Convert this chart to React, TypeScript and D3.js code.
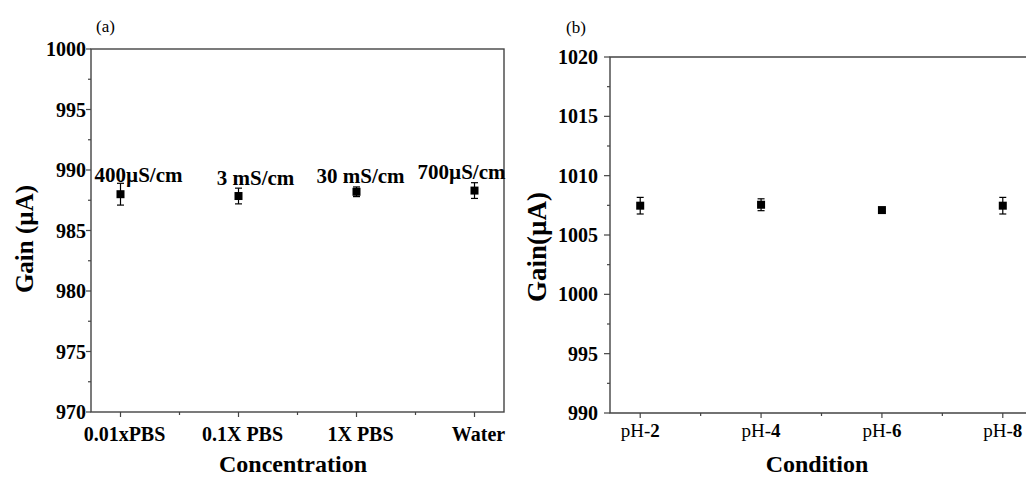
import React from 'react';
import * as d3 from 'd3';

// panel (a): gain vs buffer concentration
const concLabels = ['0.01xPBS', '0.1X PBS', '1X PBS', 'Water'];
const concGain = [988.0, 987.85, 988.2, 988.3];
const concErr = [0.9, 0.65, 0.4, 0.65];
const concNotes = ['400µS/cm', '3 mS/cm', '30 mS/cm', '700µS/cm'];
const concTicks = [970, 975, 980, 985, 990, 995, 1000];

// panel (b): gain vs pH condition
const phLabels = ['pH-2', 'pH-4', 'pH-6', 'pH-8'];
const phGain = [1007.47, 1007.55, 1007.1, 1007.47];
const phErr = [0.7, 0.5, 0.1, 0.7];
const phTicks = [990, 995, 1000, 1005, 1010, 1015, 1020];

const FONT = '"Liberation Serif", "Times New Roman", serif';
const AXIS = '#444';

// pixel nudges for the conductivity notes (relative to each point)
const noteOffsets = [[18, -12], [17, -11], [4, -9], [-13, -12]];

type PanelProps = {
  left: number; right: number; top: number; bottom: number;
  domain: [number, number];
  ticks: number[];
  labels: string[];
  gain: number[];
  err: number[];
  tag: string; tagX: number; tagY: number;
  xTitle: string; xTitleX: number;
  yTitle: string; yTitleX: number; yTitleY: number; yTitleSize: number;
  tickGap: number; tickLen: number;
  xLabelY: number;
  boxed: boolean;
  phStyle?: boolean;
  notes?: string[];
};

const Panel = (p: PanelProps) => {
  const x = d3.scaleLinear().domain([0.75, 4.25]).range([p.left, p.right]);
  const y = d3.scaleLinear().domain(p.domain).range([p.bottom, p.top]);
  const minorY = d3.range(p.domain[0] + 2.5, p.domain[1], 5);
  const minorX = [1.5, 2.5, 3.5];
  const cats = p.labels.map((_, i) => i + 1);

  return (
    <g fontFamily={FONT}>
      <text x={p.tagX} y={p.tagY} fontSize={17}>{p.tag}</text>

      {/* frame */}
      {p.boxed ? (
        <rect x={p.left} y={p.top} width={p.right - p.left} height={p.bottom - p.top}
          fill="none" stroke={AXIS} strokeWidth={1.4} />
      ) : (
        <path d={`M${p.right},${p.top}H${p.left}V${p.bottom}H${p.right}`}
          fill="none" stroke={AXIS} strokeWidth={1.4} />
      )}

      {/* y ticks */}
      {p.ticks.map((t) => (
        <g key={t}>
          <line x1={p.left - p.tickLen} x2={p.left} y1={y(t)} y2={y(t)} stroke={AXIS} strokeWidth={1.2} />
          <text x={p.left - p.tickGap} y={y(t)} dy="0.35em" textAnchor="end"
            fontSize={20} fontWeight="bold">{t}</text>
        </g>
      ))}
      {minorY.map((t) => (
        <line key={t} x1={p.left - 3} x2={p.left} y1={y(t)} y2={y(t)} stroke={AXIS} strokeWidth={1.2} />
      ))}

      {/* x ticks */}
      {cats.map((c, i) => (
        <g key={c}>
          <line x1={x(c)} x2={x(c)} y1={p.bottom} y2={p.bottom + 5} stroke={AXIS} strokeWidth={1.2} />
          {p.phStyle ? (
            <text x={x(c)} y={p.xLabelY} textAnchor="middle" fontSize={19}>
              {p.labels[i].slice(0, 3)}
              <tspan fontWeight="bold">{p.labels[i].slice(3)}</tspan>
            </text>
          ) : (
            <text x={x(c) + 4} y={p.xLabelY} textAnchor="middle" fontSize={20} fontWeight="bold">
              {p.labels[i]}
            </text>
          )}
        </g>
      ))}
      {minorX.map((c) => (
        <line key={c} x1={x(c)} x2={x(c)} y1={p.bottom} y2={p.bottom + 3} stroke={AXIS} strokeWidth={1.2} />
      ))}

      {/* axis titles */}
      <text x={p.xTitleX} y={472} textAnchor="middle" fontSize={24} fontWeight="bold">{p.xTitle}</text>
      <text transform={`translate(${p.yTitleX},${p.yTitleY}) rotate(-90)`} textAnchor="middle"
        dy="0.35em" fontSize={p.yTitleSize} fontWeight="bold">{p.yTitle}</text>

      {/* points with error bars */}
      {cats.map((c, i) => {
        const cx = x(c);
        const hi = y(p.gain[i] + p.err[i]);
        const lo = y(p.gain[i] - p.err[i]);
        return (
          <g key={`pt-${c}`} stroke="#000" strokeWidth={1.2}>
            <line x1={cx} x2={cx} y1={hi} y2={lo} />
            <line x1={cx - 3.5} x2={cx + 3.5} y1={hi} y2={hi} />
            <line x1={cx - 3.5} x2={cx + 3.5} y1={lo} y2={lo} />
            <rect x={cx - 4} y={y(p.gain[i]) - 4} width={8} height={8} fill="#000" stroke="none" />
          </g>
        );
      })}

      {/* conductivity notes */}
      {p.notes && p.notes.map((n, i) => (
        <text key={n} x={x(i + 1) + noteOffsets[i][0]} y={y(p.gain[i]) + noteOffsets[i][1]}
          textAnchor="middle" fontSize={21} fontWeight="bold">{n}</text>
      ))}
    </g>
  );
};

const App = () => {
  return (
    <svg width={1026} height={479} style={{ position: 'absolute', left: 0, top: 0, background: '#fff' }}>
      <Panel
        left={91} right={504} top={49} bottom={412}
        domain={[970, 1000]} ticks={concTicks}
        labels={concLabels} gain={concGain} err={concErr}
        tag="(a)" tagX={96} tagY={32}
        xTitle="Concentration" xTitleX={293}
        yTitle="Gain (µA)" yTitleX={24} yTitleY={239} yTitleSize={25}
        tickGap={5} tickLen={5} xLabelY={441}
        boxed={true} notes={concNotes}
      />
      <Panel
        left={610} right={1033} top={57} bottom={413}
        domain={[990, 1020]} ticks={phTicks}
        labels={phLabels} gain={phGain} err={phErr}
        tag="(b)" tagX={566} tagY={33}
        xTitle="Condition" xTitleX={817}
        yTitle="Gain(µA)" yTitleX={537} yTitleY={247} yTitleSize={27}
        tickGap={12} tickLen={6} xLabelY={437}
        boxed={false} phStyle={true}
      />
    </svg>
  );
};

export default App;
